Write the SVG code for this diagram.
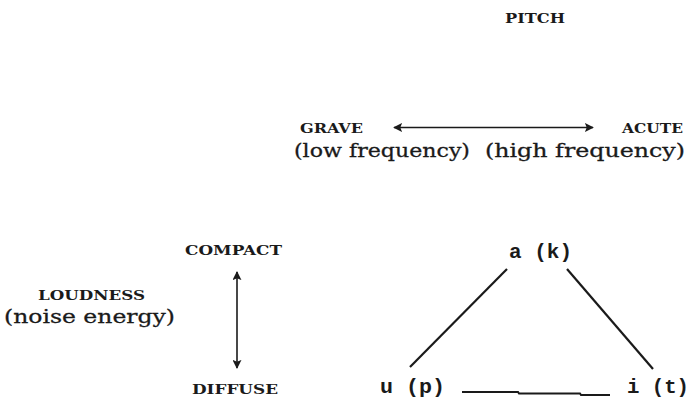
<svg xmlns="http://www.w3.org/2000/svg" width="691" height="401" viewBox="0 0 691 401">
  <defs>
    <style>
      .cap { font-family: "DejaVu Serif", "Liberation Serif", serif; font-weight: bold; font-size: 13.5px; fill: #1a1a1a; }
      .sub { font-family: "DejaVu Serif", "Liberation Serif", serif; font-size: 19px; fill: #1a1a1a; stroke: #1a1a1a; stroke-width: 0.3; }
      .mono { font-family: "Liberation Mono", "DejaVu Sans Mono", monospace; font-weight: bold; font-size: 20px; fill: #1a1a1a; }
      .conn { stroke: #1a1a1a; fill: none; }
    </style>
    <marker id="ah" viewBox="0 0 10 10" refX="9" refY="5" markerWidth="9" markerHeight="9" markerUnits="userSpaceOnUse" orient="auto-start-reverse">
      <path d="M0,0 L10,5 L0,10 L2,5 Z" fill="#1a1a1a"/>
    </marker>
  </defs>
  <rect width="691" height="401" fill="#ffffff"/>

  <g id="pitch"><text class="cap" x="505" y="23" textLength="60" lengthAdjust="spacingAndGlyphs">PITCH</text></g>
  <g id="grave">
    <text class="cap" x="300" y="133" textLength="63" lengthAdjust="spacingAndGlyphs">GRAVE</text>
    <text class="sub" x="294" y="157" textLength="176" lengthAdjust="spacingAndGlyphs">(low frequency)</text>
  </g>
  <g id="acute">
    <text class="cap" x="622" y="133" textLength="61" lengthAdjust="spacingAndGlyphs">ACUTE</text>
    <text class="sub" x="485" y="157" textLength="200" lengthAdjust="spacingAndGlyphs">(high frequency)</text>
  </g>
  <g id="compact"><text class="cap" x="185" y="255" textLength="97" lengthAdjust="spacingAndGlyphs">COMPACT</text></g>
  <g id="loudness">
    <text class="cap" x="38" y="300" textLength="107" lengthAdjust="spacingAndGlyphs">LOUDNESS</text>
    <text class="sub" x="4" y="323" textLength="171" lengthAdjust="spacingAndGlyphs">(noise energy)</text>
  </g>
  <g id="diffuse"><text class="cap" x="192" y="394" textLength="86" lengthAdjust="spacingAndGlyphs">DIFFUSE</text></g>
  <g id="a-k"><text class="mono" x="509" y="258" textLength="63" lengthAdjust="spacingAndGlyphs">a (k)</text></g>
  <g id="u-p"><text class="mono" x="380" y="393" textLength="65" lengthAdjust="spacingAndGlyphs">u (p)</text></g>
  <g id="i-t"><text class="mono" x="627" y="393" textLength="62" lengthAdjust="spacingAndGlyphs">i (t)</text></g>

  <g id="connectors">
    <line class="conn" x1="394" y1="127.5" x2="593" y2="127.5" stroke-width="1.6" marker-start="url(#ah)" marker-end="url(#ah)"/>
    <line class="conn" x1="237" y1="272" x2="237" y2="368" stroke-width="1.6" marker-start="url(#ah)" marker-end="url(#ah)"/>
    <line class="conn" x1="410" y1="367" x2="507" y2="269" stroke-width="2.2"/>
    <line class="conn" x1="567" y1="269" x2="653" y2="369" stroke-width="2.2"/>
    <polyline class="conn" points="462,392 518,392 519,393.5 580,393.5 581,395 610,395" stroke-width="2"/>
  </g>
</svg>
